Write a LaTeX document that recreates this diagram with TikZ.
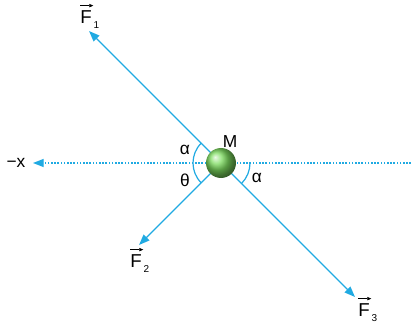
\documentclass[tikz,border=0pt]{standalone}
\usepackage{fontspec}
\setmainfont{Liberation Sans}
\usetikzlibrary{arrows.meta}
\definecolor{forcecyan}{RGB}{32,170,226}
\definecolor{ballgreen}{RGB}{125,220,95}
\tikzset{
  force/.style={draw=forcecyan,line width=1pt,-{Triangle[length=8pt,width=6pt]}},
  axisline/.style={draw=forcecyan,line width=1pt,dash pattern=on 1.2pt off 1.2pt,-{Triangle[length=8pt,width=6pt]}},
  anglearc/.style={draw=forcecyan,line width=0.9pt},
  vecarrow/.style={draw=black,line width=0.5pt,-{Triangle[length=3pt,width=2.5pt]}},
  flabel/.style={font=\fontsize{14}{16}\selectfont,inner sep=0pt},
  sublabel/.style={font=\fontsize{7.5}{8}\selectfont,inner sep=0pt,anchor=north west},
  glabel/.style={font=\fontsize{13}{15}\selectfont,inner sep=0pt}
}
\begin{document}
\begin{tikzpicture}[x=0.75pt,y=-0.75pt]
  \useasboundingbox (0,0) rectangle (411,328);
  \coordinate (o) at (221,163);
  \coordinate (xr) at (411,163);
  \coordinate (xl) at (33,163);
  \coordinate (f1) at (89,31);
  \coordinate (f2) at (139,245);
  \coordinate (f3) at (355,297);
  \draw[axisline] (xr) -- (xl);
  \foreach \t in {f1,f2,f3}
    \draw[force] (o) -- (\t);
  % y axis points down, so angles turn clockwise
  \draw[anglearc] (o) ++(135:28) arc (135:225:28);
  \draw[anglearc] (o) ++(0:29) arc (0:45:29);
  \node[circle,minimum size=22.5pt,inner sep=0pt,shading=ball,ball color=ballgreen] (m) at (o) {};
  \node[glabel] (mlab) at (230,142) {M};
  \node[glabel] (a1) at (185,150) {α};
  \node[glabel] (th) at (185,180) {θ};
  \node[glabel] (a2) at (257,178) {α};
  \node[glabel] (xlab) at (16,163) {−x};
  % force names with vector arrows
  \foreach \n/\x/\y in {1/86/17,2/136/261,3/364/310} {
    \node[flabel] (F\n) at (\x,\y) {F};
    \node[sublabel] (s\n) at ([xshift=1pt,yshift=2pt]F\n.south east) {\n};
    \draw[vecarrow] ([yshift=3.5pt]F\n.north west) -- ([xshift=1pt,yshift=3.5pt]F\n.north east);
  }
\end{tikzpicture}
\end{document}
